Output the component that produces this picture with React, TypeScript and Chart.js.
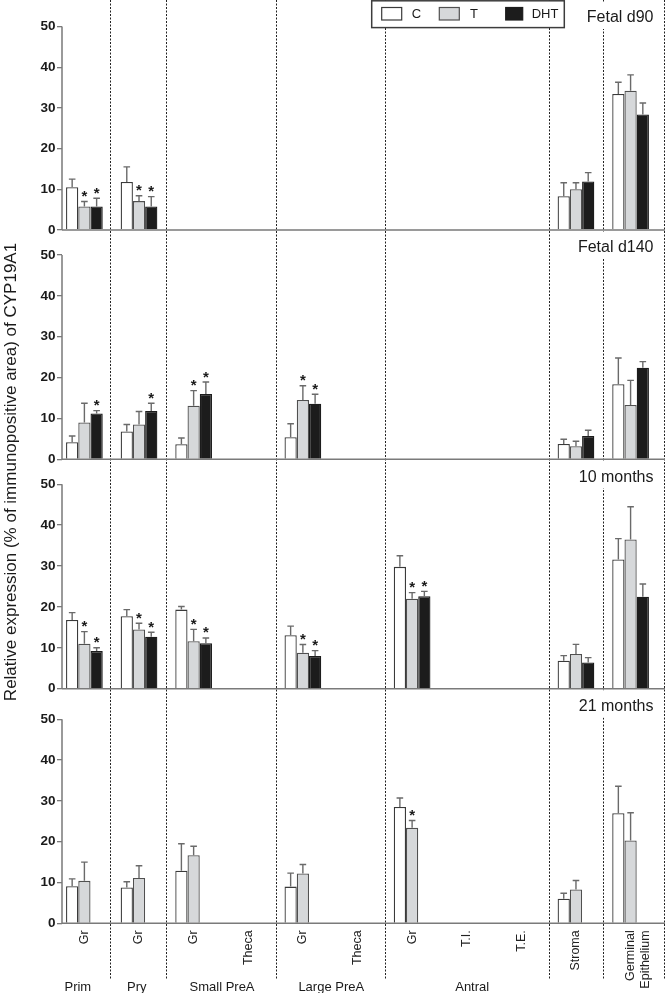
import { useEffect, useRef } from 'react';
import { Chart, registerables } from 'chart.js';

Chart.register(...registerables);

const _ = null;

// Categories on the x axis (one slot per compartment)
const categoryLabels: (string | string[])[] = ['Gr', 'Gr', 'Gr', 'Theca', 'Gr', 'Theca', 'Gr', 'T.I.', 'T.E.', 'Stroma', ['Germinal', 'Epithelium']];
const groupLabels = ['Prim', 'Pry', 'Small PreA', 'Large PreA', 'Antral'];
const groupLabelAt = [-0.12, 0.96, 2.52, 4.52, 7.1];
const dividerAt = [0.47, 1.5, 3.5, 5.5, 8.5, 9.5, 10.62];
const panelTitles = ['Fetal d90', 'Fetal d140', '10 months', '21 months'];
const seriesNames = ['C', 'T', 'DHT'];
const yTitle = 'Relative expression (% of immunopositive area) of CYP19A1';

// Fetal d90
const d90C = [10.5, 11.8, _, _, _, _, _, _, _, 8.3, 33.4];
const d90CErr = [2.0, 3.7, _, _, _, _, _, _, _, 3.3, 2.9];
const d90T = [5.8, 7.1, _, _, _, _, _, _, _, 10.0, 34.2];
const d90TErr = [1.2, 1.3, _, _, _, _, _, _, _, 1.6, 3.9];
const d90D = [5.8, 5.8, _, _, _, _, _, _, _, 11.9, 28.4];
const d90DErr = [2.0, 2.4, _, _, _, _, _, _, _, 2.2, 2.8];
const d90TStar = [0, 1];
const d90DStar = [0, 1];

// Fetal d140
const d140C = [4.2, 6.8, 3.7, _, 5.4, _, _, _, _, 3.75, 18.35];
const d140CErr = [1.5, 1.7, 1.5, _, 3.3, _, _, _, _, 1.15, 6.45];
const d140T = [9.0, 8.5, 13.1, _, 14.5, _, _, _, _, 3.2, 13.3];
const d140TErr = [4.7, 3.2, 3.7, _, 3.5, _, _, _, _, 1.2, 6.0];
const d140D = [11.2, 11.8, 16.0, _, 13.6, _, _, _, _, 5.7, 22.4];
const d140DErr = [0.7, 1.9, 2.9, _, 2.3, _, _, _, _, 1.4, 1.5];
const d140TStar = [2, 4];
const d140DStar = [0, 1, 2, 4];

// 10 months
const m10C = [16.8, 17.7, 19.35, _, 13.1, _, 29.8, _, _, 6.85, 31.6];
const m10CErr = [1.8, 1.65, 0.75, _, 2.2, _, 2.7, _, _, 1.25, 5.1];
const m10T = [11.0, 14.5, 11.6, _, 8.8, _, 22.0, _, _, 8.5, 36.5];
const m10TErr = [2.95, 1.5, 2.9, _, 2.0, _, 1.5, _, _, 2.35, 8.0];
const m10D = [9.2, 12.7, 11.1, _, 8.0, _, 22.6, _, _, 6.4, 22.5];
const m10DErr = [0.8, 1.1, 1.3, _, 1.3, _, 1.2, _, _, 1.2, 3.1];
const m10TStar = [0, 1, 2, 4, 6];
const m10DStar = [0, 1, 2, 4, 6];

// 21 months
const m21C = [9.1, 8.8, 12.9, _, 9.0, _, 28.5, _, _, 6.0, 27.0];
const m21CErr = [1.8, 1.4, 6.6, _, 3.3, _, 2.2, _, _, 1.35, 6.6];
const m21T = [10.4, 11.1, 16.7, _, 12.2, _, 23.4, _, _, 8.3, 20.3];
const m21TErr = [4.6, 3.0, 2.2, _, 2.2, _, 1.8, _, _, 2.2, 6.8];
const m21D = [_, _, _, _, _, _, _, _, _, _, _];
const m21DErr = [_, _, _, _, _, _, _, _, _, _, _];
const m21TStar = [6];

const FONT = "'Liberation Sans', Arial, Helvetica, sans-serif";
const seriesFill = ['#ffffff', '#d6d8da', '#1c1c1c'];
const seriesBorder = ['#3a3a3a', '#505050', '#1c1c1c'];

// panel geometry (axis box weights and value ranges)
const panelWeights = [230, 229.3, 229.4, 234.6];
const panelMax = [56.5, 56.1, 56.1, 57.5];

export default function App() {
  const ref = useRef<HTMLCanvasElement>(null);

  useEffect(() => {
    const canvas = ref.current;
    if (!canvas) return;

    const panels = [
      { values: [d90C, d90T, d90D], errs: [d90CErr, d90TErr, d90DErr], stars: [[], d90TStar, d90DStar] },
      { values: [d140C, d140T, d140D], errs: [d140CErr, d140TErr, d140DErr], stars: [[], d140TStar, d140DStar] },
      { values: [m10C, m10T, m10D], errs: [m10CErr, m10TErr, m10DErr], stars: [[], m10TStar, m10DStar] },
      { values: [m21C, m21T, m21D], errs: [m21CErr, m21TErr, m21DErr], stars: [[], m21TStar, []] },
    ];

    const datasets: any[] = [];
    panels.forEach((p, pi) => {
      p.values.forEach((vals, si) => {
        datasets.push({
          label: seriesNames[si],
          data: categoryLabels.map((_c, i) => ({ x: i, y: vals[i] })),
          yAxisID: 'y' + pi,
          stack: seriesNames[si],
          backgroundColor: seriesFill[si],
          borderColor: seriesBorder[si],
          borderWidth: 1.3,
          categoryPercentage: 0.672,
          barPercentage: 1,
          errs: p.errs[si],
          stars: p.stars[si],
        });
      });
    });

    const scales: any = {
      x: {
        type: 'linear',
        bounds: 'data',
        offset: false,
        min: -0.41,
        max: 10.63,
        afterBuildTicks: (s: any) => {
          s.ticks = categoryLabels.map((_c, i) => ({ value: i }));
        },
        afterFit: (s: any) => {
          s.height = 69.7;
          s.paddingLeft = 0;
          s.paddingRight = 0;
        },
        grid: { display: false, drawTicks: false },
        border: { display: false },
        ticks: {
          autoSkip: false,
          minRotation: 90,
          maxRotation: 90,
          padding: 7,
          color: '#222',
          font: { family: FONT, size: 12.5 },
          callback: (v: any) => categoryLabels[v as number],
        },
      },
    };
    panelTitles.forEach((_t, pi) => {
      scales['y' + pi] = {
        type: 'linear',
        position: 'left',
        stack: 'panels',
        stackWeight: panelWeights[pi],
        weight: 10 - pi,
        stacked: false,
        bounds: 'data',
        min: 0,
        max: panelMax[pi],
        afterBuildTicks: (s: any) => {
          s.ticks = s.ticks.filter((t: any) => t.value <= 50);
        },
        afterFit: (s: any) => {
          s.width = 62;
          s.paddingTop = 0;
          s.paddingBottom = 0;
        },
        border: { display: false },
        grid: { drawOnChartArea: false, drawTicks: true, tickLength: 5, color: '#7a7a7a', lineWidth: 1.3 },
        ticks: {
          stepSize: 10,
          includeBounds: false,
          padding: 1.5,
          color: '#1a1a1a',
          font: { family: FONT, size: 13.5, weight: 'bold' },
        },
      };
    });

    const overlay = {
      id: 'overlay',
      beforeDatasetsDraw(chart: any) {
        const ctx = chart.ctx;
        const xs = chart.scales.x;
        const area = chart.chartArea;
        ctx.save();
        ctx.strokeStyle = '#222';
        ctx.lineWidth = 1;
        ctx.setLineDash([2, 1.5]);
        dividerAt.forEach((d) => {
          const x = Math.round(xs.getPixelForValue(d)) + 0.5;
          ctx.beginPath();
          ctx.moveTo(x, 0);
          ctx.lineTo(x, area.bottom + 56);
          ctx.stroke();
        });
        ctx.restore();
      },
      afterDatasetsDraw(chart: any) {
        const ctx = chart.ctx;
        const area = chart.chartArea;
        ctx.save();
        // axes of each panel
        panelTitles.forEach((_t, pi) => {
          const ys = chart.scales['y' + pi];
          const y0 = ys.getPixelForValue(0);
          const y50 = ys.getPixelForValue(50);
          ctx.strokeStyle = '#7a7a7a';
          ctx.lineWidth = 1.5;
          ctx.beginPath();
          ctx.moveTo(area.left, y0);
          ctx.lineTo(area.right, y0);
          ctx.moveTo(area.left, y50);
          ctx.lineTo(area.left, y0);
          ctx.stroke();
        });
        // error bars and significance marks
        chart.data.datasets.forEach((ds: any, di: number) => {
          const meta = chart.getDatasetMeta(di);
          const ys = chart.scales[ds.yAxisID];
          meta.data.forEach((bar: any, i: number) => {
            const v = ds.data[i].y;
            const e = ds.errs[i];
            if (v == null || e == null) return;
            const top = ys.getPixelForValue(v + e);
            ctx.strokeStyle = '#6a6a6a';
            ctx.lineWidth = 1.4;
            ctx.beginPath();
            ctx.moveTo(bar.x, bar.y);
            ctx.lineTo(bar.x, top);
            ctx.moveTo(bar.x - 3.3, top);
            ctx.lineTo(bar.x + 3.3, top);
            ctx.stroke();
            if (ds.stars.includes(i)) {
              ctx.fillStyle = '#1a1a1a';
              ctx.font = `bold 15px ${FONT}`;
              ctx.textAlign = 'center';
              ctx.textBaseline = 'alphabetic';
              ctx.fillText('*', bar.x, top - 0.5);
            }
          });
        });
        ctx.restore();
      },
      afterDraw(chart: any) {
        const ctx = chart.ctx;
        const xs = chart.scales.x;
        const area = chart.chartArea;
        ctx.save();
        // panel titles
        ctx.font = `16px ${FONT}`;
        ctx.textAlign = 'right';
        ctx.textBaseline = 'middle';
        panelTitles.forEach((t, pi) => {
          const ys = chart.scales['y' + pi];
          const cy = ys.top + 18;
          const right = 653.5;
          const w = ctx.measureText(t).width;
          ctx.fillStyle = '#ffffff';
          ctx.fillRect(right - w - 3, ys.top + 1.5, w + 7, cy + 11 - ys.top - 1.5);
          ctx.fillStyle = '#1a1a1a';
          ctx.fillText(t, right, cy);
        });
        // legend
        const lx = 371.7, ly = 0.8, lw = 192.6, lh = 26.8;
        ctx.fillStyle = '#ffffff';
        ctx.fillRect(lx, ly, lw, lh);
        ctx.strokeStyle = '#3c3c3c';
        ctx.lineWidth = 1.5;
        ctx.strokeRect(lx, ly, lw, lh);
        const swX = [381.7, 439.3, 505.7];
        const swW = [20, 20, 17];
        const txX = [411.7, 470, 531.7];
        ctx.font = `13px ${FONT}`;
        ctx.textAlign = 'left';
        ctx.textBaseline = 'middle';
        seriesNames.forEach((n, si) => {
          ctx.fillStyle = seriesFill[si];
          ctx.fillRect(swX[si], 7.5, swW[si], 12.5);
          ctx.strokeStyle = seriesBorder[si];
          ctx.lineWidth = 1.2;
          ctx.strokeRect(swX[si], 7.5, swW[si], 12.5);
          ctx.fillStyle = '#1a1a1a';
          ctx.fillText(n, txX[si], 14.5);
        });
        // group labels
        ctx.font = `13px ${FONT}`;
        ctx.textAlign = 'center';
        ctx.textBaseline = 'alphabetic';
        ctx.fillStyle = '#1a1a1a';
        groupLabels.forEach((g, gi) => {
          ctx.fillText(g, xs.getPixelForValue(groupLabelAt[gi]), area.bottom + 67.5);
        });
        // y title
        ctx.translate(11, 472);
        ctx.rotate(-Math.PI / 2);
        ctx.font = `17px ${FONT}`;
        ctx.textAlign = 'center';
        ctx.textBaseline = 'middle';
        ctx.fillText(yTitle, 0, 0);
        ctx.restore();
      },
    };

    const chart = new Chart(canvas, {
      type: 'bar',
      data: { datasets },
      options: {
        animation: false,
        responsive: true,
        maintainAspectRatio: false,
        events: [],
        layout: { padding: 0 },
        plugins: { legend: { display: false }, tooltip: { enabled: false }, title: { display: false } },
        scales,
      } as any,
      plugins: [overlay],
    } as any);

    return () => chart.destroy();
  }, []);

  return (
    <div style={{ position: 'absolute', left: 0, top: 0, width: 665, height: 993, background: '#fff' }}>
      <canvas ref={ref} />
    </div>
  );
}
